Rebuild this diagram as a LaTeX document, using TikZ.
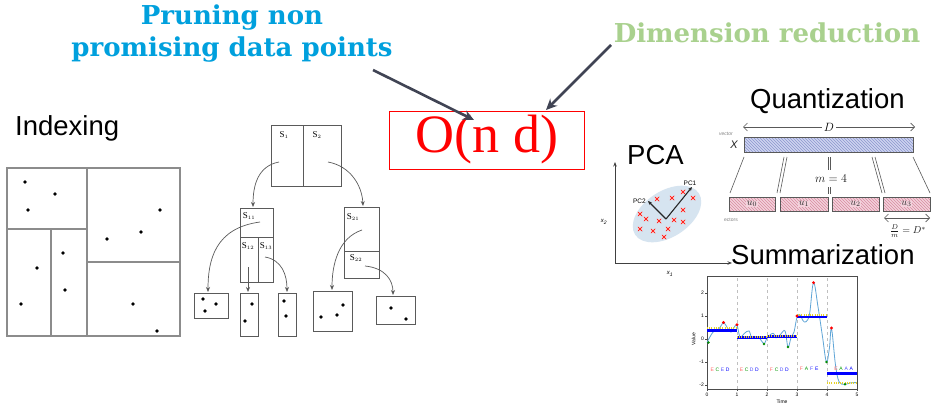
\documentclass[tikz,border=0pt]{standalone}
\usepackage{fontspec}
\setmainfont{Liberation Serif}
\setsansfont{Liberation Sans}
\newfontfamily\boldserif{DejaVu Serif}
\usetikzlibrary{arrows.meta,patterns,calc}
\definecolor{pruneblue}{RGB}{0,160,221}
\definecolor{dimgreen}{RGB}{169,209,142}
\definecolor{arrowgray}{RGB}{64,68,84}
\definecolor{treegray}{RGB}{90,90,90}
\definecolor{gridgray}{RGB}{140,140,140}
\definecolor{pcafill}{RGB}{214,228,240}
\definecolor{qblue}{RGB}{206,212,240}
\definecolor{qpink}{RGB}{244,210,220}
\definecolor{qbhatch}{RGB}{140,150,205}
\definecolor{qphatch}{RGB}{215,140,160}
\definecolor{tsblue}{RGB}{95,165,215}
\definecolor{tsyellow}{RGB}{230,210,40}
\definecolor{mkpink}{RGB}{248,200,196}
\begin{document}
\begin{tikzpicture}[x=1pt,y=-1pt,
  sanslab/.style={font=\sffamily\fontsize{27.5}{30}\selectfont, inner sep=0, anchor=west},
  bigarrow/.style={draw=arrowgray, line width=2.6pt, -{Stealth[length=11pt,width=10pt]}},
  gridline/.style={draw=gridgray, line width=1.1pt},
  treebox/.style={draw=treegray, line width=0.9pt},
  treearrow/.style={draw=treegray, line width=0.7pt, -{Stealth[length=5pt,width=4pt]}},
  slab/.style={font=\fontsize{9}{9}\selectfont, inner sep=0},
  xmk/.style={fill=mkpink, minimum size=4.5pt, inner sep=0,
    path picture={\draw[red, line width=0.6pt] (path picture bounding box.south west) -- (path picture bounding box.north east) (path picture bounding box.north west) -- (path picture bounding box.south east);}},
  qline/.style={draw=gray!70!black, line width=0.6pt},
  tiny/.style={font=\sffamily\fontsize{5}{5}\selectfont, inner sep=0.5pt}
]
\useasboundingbox (0,0) rectangle (932,404);
\fill[white] (0,0) rectangle (932,404);

% ---------- titles ----------
\node[font=\boldserif\bfseries\fontsize{26}{32}\selectfont, text=pruneblue, align=center, inner sep=0] (prune) at (232,34) {Pruning non\\promising data points};
\node[font=\boldserif\bfseries\fontsize{26}{30}\selectfont, text=dimgreen, inner sep=0] (dimred) at (767,33) {Dimension reduction};

\node[draw=red, line width=1pt, text=red, font=\fontsize{54}{54}\selectfont, minimum width=195pt, minimum height=58pt, inner sep=0] (ond) at (487,140) {O(n d)};

\coordinate (t1) at (373,70);
\coordinate (h1) at (474,120);
\coordinate (t2) at (611,45);
\coordinate (h2) at (546,110);
\draw[bigarrow] (t1) -- (h1);
\draw[bigarrow] (t2) -- (h2);

% ---------- Indexing ----------
\node[sanslab] (idx) at (15,128) {Indexing};

\draw[gridline] (7,168) rectangle (180,336);
\draw[gridline] (87,168) -- (87,336);
\draw[gridline] (7,229) -- (87,229);
\draw[gridline] (51,229) -- (51,336);
\draw[gridline] (87,262) -- (180,262);
\foreach \p in {(25,182),(55,194),(28,210),(160,210),(141,232),(107,239),(63,253),(37,268),(65,290),(21,304),(133,304),(157,331)}
  \fill \p circle (1.8);

% ---------- tree ----------
\draw[treebox] (271,125) rectangle (341,186);
\draw[treebox] (303,125) -- (303,186);
\node[slab] (s1) at (284,135) {S$_{\scriptscriptstyle 1}$};
\node[slab] (s2) at (317,135) {S$_{\scriptscriptstyle 2}$};

\draw[treebox] (240,208) rectangle (273,282);
\draw[treebox] (240,237) -- (273,237);
\draw[treebox] (258,237) -- (258,282);
\node[slab] (s11) at (249,216) {S$_{\scriptscriptstyle 11}$};
\node[slab] (s12) at (248,246) {S$_{\scriptscriptstyle 12}$};
\node[slab] (s13) at (266,246) {S$_{\scriptscriptstyle 13}$};

\draw[treebox] (344,207) rectangle (379,278);
\draw[treebox] (344,251) -- (379,251);
\node[slab] (s21) at (353,217) {S$_{\scriptscriptstyle 21}$};
\node[slab] (s22) at (356,258) {S$_{\scriptscriptstyle 22}$};

% leaves
\draw[treebox] (194,293) rectangle (228,318);
\draw[treebox] (240,293) rectangle (258,336);
\draw[treebox] (278,293) rectangle (296,336);
\draw[treebox] (313,291) rectangle (352,331);
\draw[treebox] (376,296) rectangle (415,324);
\foreach \p in {(203,299),(216,304),(205,311),(252,304),(245,321),(284,301),(286,316),(321,317),(337,315),(343,305),(391,308),(406,319)}
  \fill \p circle (1.8);

\coordinate (a1) at (279,162); \coordinate (b1) at (253,207);
\coordinate (a2) at (328,162); \coordinate (b2) at (363,206);
\coordinate (a3) at (260,222); \coordinate (b3) at (208,292);
\coordinate (a4) at (248,267); \coordinate (b4) at (248,292);
\coordinate (a5) at (265,257); \coordinate (b5) at (287,292);
\coordinate (a6) at (362,230); \coordinate (b6) at (332,290);
\coordinate (a7) at (365,266); \coordinate (b7) at (393,295);
\draw[treearrow] (a1) .. controls (258,166) and (253,185) .. (b1);
\draw[treearrow] (a2) .. controls (350,166) and (362,185) .. (b2);
\draw[treearrow] (a3) .. controls (215,228) and (208,260) .. (b3);
\draw[treearrow] (a4) -- (b4);
\draw[treearrow] (a5) .. controls (282,260) and (287,275) .. (b5);
\draw[treearrow] (a6) .. controls (338,238) and (332,265) .. (b6);
\draw[treearrow] (a7) .. controls (385,268) and (393,280) .. (b7);

% ---------- PCA ----------
\node[sanslab] (pca) at (627,155) {PCA};
\coordinate (org) at (615,263);
\coordinate (yax) at (615,162);
\coordinate (xax) at (732,263);
\draw[line width=0.9pt, draw=gray!50!black, -{Stealth[length=4.5pt,width=3.5pt]}] (org) -- (yax);
\draw[line width=0.9pt, draw=gray!50!black, -{Stealth[length=4.5pt,width=3.5pt]}] (org) -- (xax);
\node[font=\sffamily\fontsize{6}{6}\selectfont, inner sep=0] (x2) at (604,222) {\itshape x\textsubscript{2}};
\node[font=\sffamily\fontsize{6}{6}\selectfont, inner sep=0] (x1) at (670,274) {\itshape x\textsubscript{1}};
\fill[pcafill, rotate around={33:(667,214)}] (667,214) ellipse [x radius=38, y radius=23];
\foreach \p [count=\i] in {(657,199),(672,198),(683,192),(693,198),(640,214),(646,219),(659,221),(674,220),(683,210),(683,222),(640,229),(653,231),(668,229),(664,237)}
  \node[xmk] (mk\i) at \p {};
\coordinate (pcv) at (666,219);
\coordinate (pc1e) at (692,187);
\coordinate (pc2e) at (648,201);
\draw[line width=1.1pt, draw=gray!30!black, -{Stealth[length=4pt,width=3.5pt]}] (pcv) -- (pc1e);
\draw[line width=1.1pt, draw=gray!30!black, -{Stealth[length=4pt,width=3.5pt]}] (pcv) -- (pc2e);
\node[font=\sffamily\fontsize{6.5}{6.5}\selectfont, inner sep=0] (pc1) at (690,183) {PC1};
\node[font=\sffamily\fontsize{6.5}{6.5}\selectfont, inner sep=0, anchor=east] (pc2) at (646,201) {PC2};

% ---------- Quantization ----------
\node[sanslab] (quant) at (750,101) {Quantization};
\coordinate (dl) at (743,127);
\coordinate (dr) at (915,127);
\draw[qline, {Straight Barb[length=4pt]}-{Straight Barb[length=4pt]}] (dl) -- (dr);
\node[fill=white, font=\fontsize{12}{12}\selectfont, inner sep=2pt] (dlab) at (829,127) {$D$};
\node[tiny, text=gray] (vec) at (726,134) {\itshape vector};
\node[font=\sffamily\fontsize{11}{11}\selectfont, inner sep=0, text=gray!30!black] (xl) at (734,145) {\itshape X};
\fill[qblue] (744,137) rectangle (913,152);
\fill[pattern=north west lines, pattern color=qbhatch] (744,137) rectangle (913,152);
\draw[qline] (744,137) rectangle (913,152);

\foreach \xa/\xb in {729/775,780/828,832/879,883/930}{
  \fill[qpink] (\xa,197) rectangle (\xb,211);
  \fill[pattern=north west lines, pattern color=qphatch] (\xa,197) rectangle (\xb,211);
  \draw[qline] (\xa,197) rectangle (\xb,211);
}
\foreach \i/\x in {0/752,1/804,2/855.5,3/906.5}
  \node[fill=qpink, inner sep=0.5pt, font=\fontsize{10}{10}\selectfont, text=gray!30!black] (u\i) at (\x,204) {$u_{\i}$};

\draw[qline] (744,157) -- (730,193);
\draw[qline] (787,157) -- (780,193);
\draw[qline] (784,157) -- (777,193);
\draw[qline] (828,157) -- (828,170);
\draw[qline] (830,157) -- (830,170);
\draw[qline] (828,187) -- (828,194);
\draw[qline] (830,187) -- (830,194);
\node[font=\fontsize{12}{12}\selectfont, inner sep=0, text=gray!20!black] (m4) at (831,179) {$m = 4$};
\draw[qline] (872,157) -- (882,193);
\draw[qline] (875,157) -- (885,193);
\draw[qline] (913,157) -- (930,193);
\node[tiny, text=gray] (ect) at (731,220) {ectors};
\coordinate (ul) at (884,218);
\coordinate (ur) at (930,218);
\draw[qline, {Straight Barb[length=4pt]}-{Straight Barb[length=4pt]}] (ul) -- (ur);
\node[font=\fontsize{10}{10}\selectfont, inner sep=0, text=gray!20!black] (dm) at (908,231) {$\frac{D}{m} = D^{*}$};

% ---------- Summarization ----------
\node[sanslab] (summ) at (731,255) {Summarization};

\begin{scope}[shift={(707,339)}, x=30pt, y=23pt]
  \foreach \t in {1,2,3,4}
    \draw[gray!50, dashed, line width=0.4pt] (\t,-2.17) -- (\t,2.75);
  \draw[gray!60!black, line width=0.5pt] (0,-2.17) rectangle (5,2.75);
  \foreach \v/\l in {2/2,1/1,0/0,-1/-1,-2/-2}{
    \draw[gray!60!black, line width=0.4pt] (0,\v) -- (-0.06,\v);
    \node[tiny, anchor=east] (yt\v) at (-0.08,\v) {\l};
  }
  \foreach \t in {0,1,2,3,4,5}{
    \draw[gray!60!black, line width=0.4pt] (\t,-2.17) -- (\t,-2.27);
    \node[tiny, anchor=north] (xt\t) at (\t,-2.3) {\t};
  }
  \node[tiny, anchor=north] (tlab) at (2.5,-2.62) {Time};
  \node[tiny, rotate=90] (vlab) at (-0.45,0) {Value};
  \draw[tsblue, line width=0.8pt] plot[smooth, tension=0.6] coordinates {
    (0,-0.15) (0.2,0.3) (0.4,0.45) (0.55,0.7) (0.7,0.45) (0.8,0.3) (0.9,0.5) (1.0,0.6)
    (1.1,0.1) (1.25,0.25) (1.4,0.35) (1.5,0.05) (1.7,0.1) (1.9,-0.2) (2.0,0.05) (2.2,0.25)
    (2.3,0.05) (2.45,0.2) (2.6,0.35) (2.7,-0.35) (2.8,0.05) (2.9,0.3) (3.0,0.95) (3.1,1.05)
    (3.2,0.8) (3.3,0.75) (3.42,1.1) (3.55,2.45) (3.7,1.4) (3.85,0.1) (3.98,-1.0) (4.08,-0.4)
    (4.15,0.45) (4.28,-1.1) (4.4,-1.85) (4.6,-1.97) (4.8,-1.9) (5,-1.9)};
  \foreach \a/\b/\v in {0/1/0.38,1/2/0.07,2/3/0.1,3/4/0.95,4/5/-1.5}
    \draw[blue, line width=2.6pt] (\a,\v) -- (\b,\v);
  \foreach \a/\b/\v in {0/1/0.47,1/2/0.1,2/3/0.12,3/4/1.03,4/5/-1.92}
    \draw[tsyellow, line width=2.2pt, dash pattern=on 0.8pt off 1.4pt] (\a,\v) -- (\b,\v);
  \foreach \p in {(0.55,0.72),(1.0,0.62),(3.0,1.0),(3.55,2.45),(4.15,0.48)}
    \fill[red] \p circle (1.6pt);
  \foreach \p in {(0.05,-0.15),(1.9,-0.22),(2.7,-0.35),(3.98,-1.0),(4.6,-1.97)}
    \fill[green!55!black] \p circle (1.4pt);
  \foreach \w/\a/\b/\c/\d/\v in {0.18/E/C/E/D/-1.35, 1.15/E/C/D/D/-1.35, 2.15/F/C/D/D/-1.35, 3.15/F/A/F/E/-1.3, 4.3/E/A/A/A/-1.3}{
    \node[tiny, text=red!60] at (\w,\v) {\a};
    \node[tiny, text=green!60!black] at (\w+0.17,\v) {\b};
    \node[tiny, text=blue!70] at (\w+0.34,\v) {\c};
    \node[tiny, text=blue] at (\w+0.51,\v) {\d};
  }
\end{scope}
\end{tikzpicture}
\end{document}
